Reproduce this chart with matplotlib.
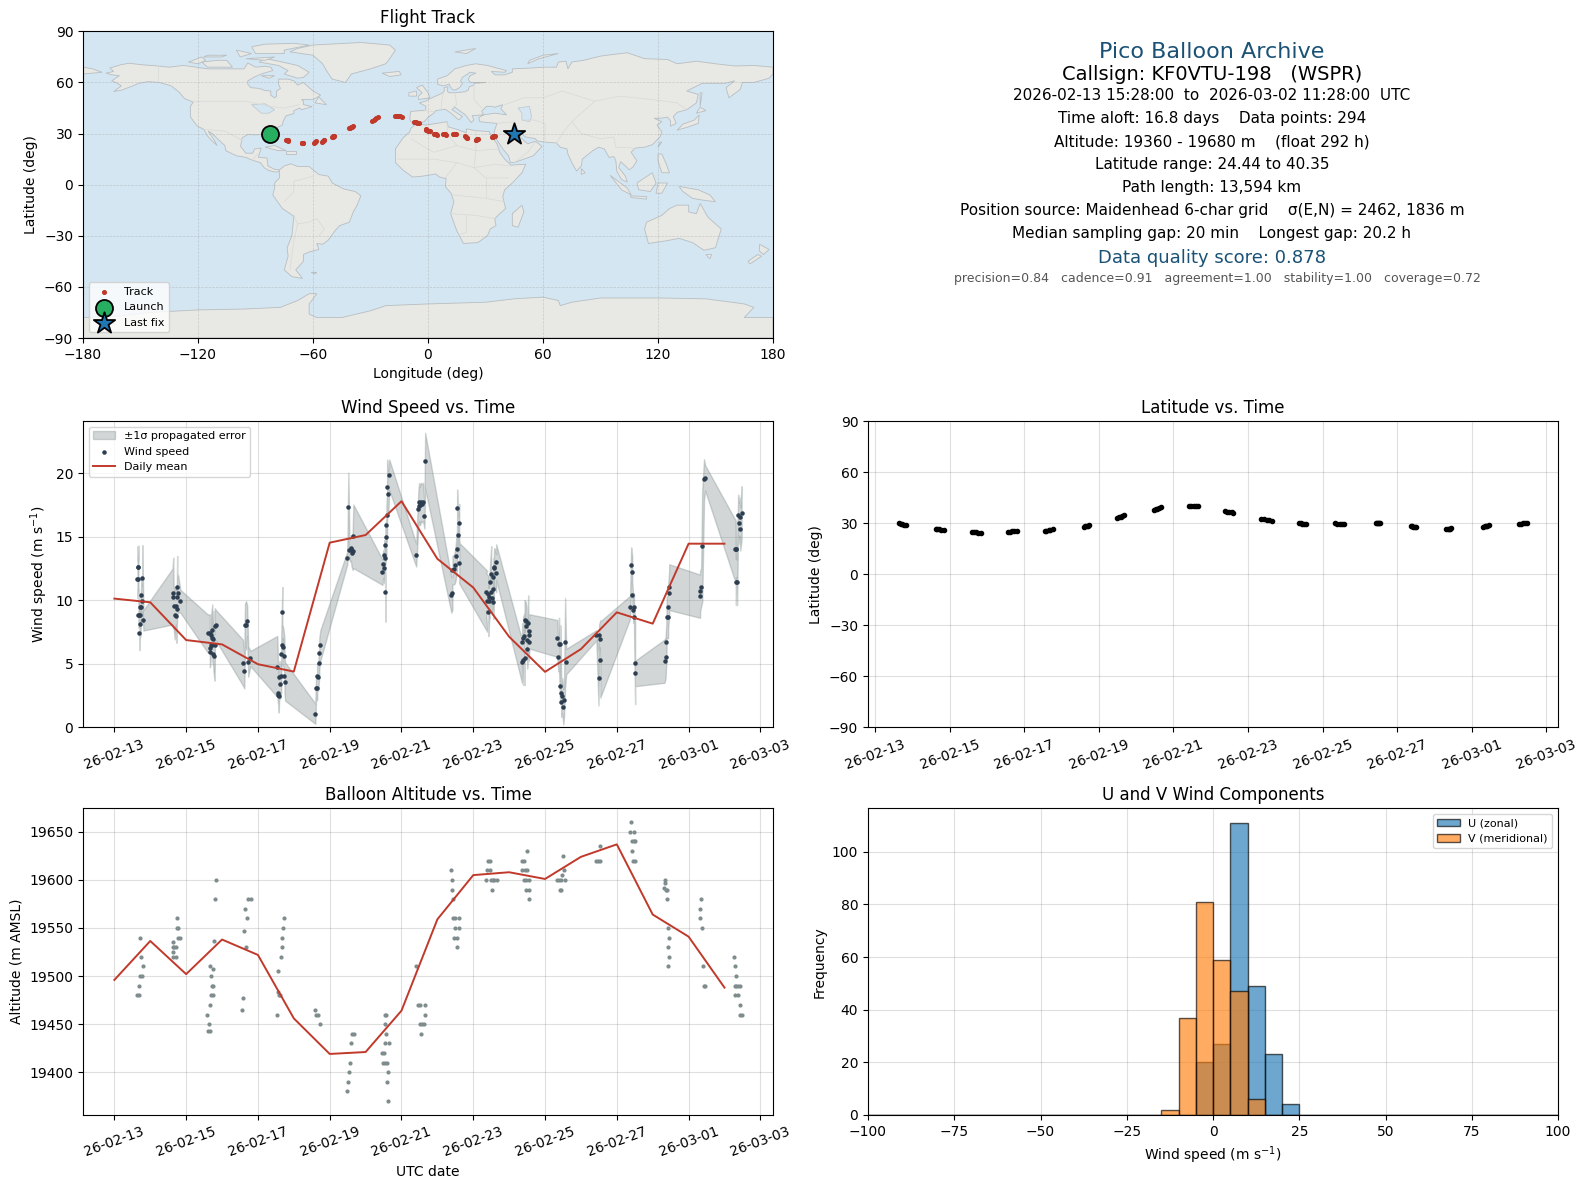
import numpy as np
import matplotlib
matplotlib.use("Agg")
import matplotlib.pyplot as plt
import matplotlib.dates as mdates
from matplotlib.patches import Polygon

# days after 2026-02-13 00:00
wind_day = [
    .644, .65, .66, .67, .67, .70, .70, .72, .72, .72, .74, .75, .78, .78, .81,
    1.62, 1.64, 1.65, 1.68, 1.71, 1.73, 1.74, 1.75, 1.75, 1.77, 1.84,
    2.6, 2.66, 2.66, 2.67, 2.68, 2.69, 2.73, 2.73, 2.73, 2.76, 2.76, 2.79, 2.8, 2.8, 2.83,
    3.58, 3.62, 3.64, 3.67, 3.7, 3.73, 3.79,
    4.54, 4.57, 4.57, 4.58, 4.6, 4.62, 4.65, 4.65, 4.68, 4.68, 4.71, 4.74, 4.74, 4.76,
    5.6, 5.62, 5.65, 5.65, 5.68, 5.71, 5.71, 5.74,
    6.49, 6.52, 6.55, 6.58, 6.59, 6.61, 6.63, 6.64, 6.66,
    7.47, 7.49, 7.52, 7.52, 7.55, 7.55, 7.55, 7.58, 7.58, 7.6, 7.6, 7.63, 7.66,
    8.41, 8.47, 8.49, 8.5, 8.52, 8.54, 8.56, 8.6, 8.64, 8.66,
    9.39, 9.42, 9.42, 9.47, 9.5, 9.53, 9.55, 9.55, 9.58, 9.61, 9.61,
    10.39, 10.36, 10.42, 10.42, 10.45, 10.45, 10.47, 10.5, 10.5, 10.53, 10.55, 10.56, 10.56, 10.58, 10.59, 10.64, 10.64,
    11.36, 11.36, 11.39, 11.39, 11.42, 11.43, 11.43, 11.46, 11.48, 11.5, 11.5, 11.53, 11.54, 11.56, 11.56,
    12.34, 12.37, 12.39, 12.42, 12.43, 12.45, 12.45, 12.48, 12.51, 12.53, 12.56, 12.59,
    13.43, 13.49, 13.51, 13.54, 13.54,
    14.37, 14.4, 14.43, 14.43, 14.46, 14.48, 14.48, 14.51, 14.51,
    15.33, 15.36, 15.38, 15.39, 15.43, 15.43, 15.46, 15.46,
    16.32, 16.32, 16.35, 16.38, 16.43, 16.46,
    17.28, 17.31, 17.32, 17.33, 17.35, 17.38, 17.41, 17.42, 17.44, 17.478,
]
wind_speed = [
    11.66, 12.58, 11.68, 12.6, 8.84, 8.84, 7.39, 9.45, 8.82, 8.13, 9.45, 10.39, 9.92, 11.74, 8.42,
    10.29, 10.55, 9.55, 8.82, 9.58, 8.76, 9.32, 11.08, 10.29, 10.55, 9.92,
    7.39, 7.39, 5.92, 6.21, 6.45, 7.26, 7.63, 7.0, 6.45, 6.95, 5.74, 5.58, 6.45, 7.97, 8.03,
    5.1, 4.47, 8.03, 8.03, 8.39, 5.18, 5.42,
    4.79, 2.74, 2.58, 2.47, 4.0, 3.45, 4.05, 5.74, 9.05, 6.5, 6.29, 5.58, 4.08, 3.6,
    1.08, 3.13, 3.13, 4.05, 4.0, 5.1, 5.82, 6.45,
    13.32, 17.34, 13.97, 14.03, 14.1, 13.84, 13.71, 13.89, 15.03,
    12.21, 12.84, 12.53, 13.55, 13.32, 10.63, 14.34, 14.97, 15.92, 16.71, 18.92, 18.37, 19.87,
    13.55, 17.21, 17.71, 17.4, 17.53, 17.74, 17.6, 17.74, 16.63, 20.97,
    10.42, 10.55, 12.37, 12.45, 12.76, 13.47, 14.03, 17.26, 15.13, 16.08, 12.92,
    9.92, 10.63, 10.5, 9.08, 10.29, 9.92, 11.42, 12.05, 10.63, 10.16, 10.87, 11.82, 9.84, 12.5, 12.6, 12.13, 13.0,
    5.18, 6.68, 5.34, 7.0, 7.16, 5.42, 8.42, 8.39, 7.95, 6.87, 6.13, 8.18, 6.71, 7.24, 7.55,
    7.0, 5.5, 6.53, 3.29, 6.53, 2.74, 2.03, 2.5, 1.63, 2.18, 6.68, 5.18,
    7.24, 3.92, 7.24, 6.92, 5.34,
    9.45, 12.76, 12.21, 10.39, 9.21, 9.45, 8.66, 5.03, 4.24,
    5.21, 5.5, 6.68, 8.66, 8.71, 9.45, 10.55, 11.03,
    10.32, 10.71, 11.03, 14.26, 19.5, 19.63,
    14.03, 14.03, 11.42, 14.03, 11.42, 16.71, 16.08, 16.58, 15.6, 16.87,
]
wind_err = [
    1.5, 1.7, 1.4, 1.7, 1.0, 1.0, 1.3, 1.1, 1.0, 1.0, 1.1, 1.3, 1.2, 2.6, 0.8,
    2.2, 2.8, 1.6, 1.9, 1.5, 2.1, 1.4, 2.4, 1.6, 1.5, 0.9,
    1.5, 1.5, 1.2, 1.4, 1.2, 1.5, 2.05, 1.6, 1.3, 2.2, 1.3, 1.9, 1.4, 1.4, 1.2,
    1.8, 1.4, 1.7, 1.9, 1.2, 1.2, 0.6,
    2.4, 1.1, 1.2, 1.3, 1.2, 1.2, 1.3, 1.5, 2.0, 1.6, 1.5, 1.4, 1.4, 1.5,
    0.8, 0.9, 1.0, 1.0, 1.1, 1.1, 1.2, 1.2,
    0.5, 2.7, 0.8, 1.0, 1.0, 1.2, 1.2, 1.5, 2.5,
    1.0, 1.1, 1.2, 1.2, 1.3, 2.3, 1.4, 1.5, 1.6, 1.7, 2.15, 1.8, 1.2,
    0.9, 1.4, 1.5, 1.5, 1.6, 1.5, 1.5, 1.5, 1.0, 2.2,
    1.4, 1.3, 1.1, 1.2, 1.3, 1.5, 1.5, 1.45, 1.5, 1.5, 1.6,
    2.4, 1.5, 1.4, 1.9, 1.5, 1.3, 1.5, 2.2, 1.5, 1.3, 1.4, 1.5, 1.3, 1.5, 1.5, 1.5, 1.4,
    1.7, 1.5, 2.0, 1.7, 1.8, 2.1, 1.6, 1.5, 1.5, 1.5, 1.5, 2.2, 1.5, 1.4, 1.35,
    1.45, 1.1, 2.1, 1.2, 1.5, 1.3, 1.2, 1.4, 1.4, 1.3, 3.5, 1.0,
    0.4, 2.2, 0.9, 1.5, 3.0,
    0.9, 1.4, 1.2, 1.0, 1.0, 1.1, 1.1, 3.2, 1.0,
    1.7, 1.6, 1.5, 1.6, 1.7, 1.7, 1.8, 1.8,
    1.7, 1.6, 1.5, 4.4, 1.6, 1.0,
    2.4, 2.3, 1.8, 2.2, 1.8, 1.6, 1.6, 1.5, 1.7, 2.1,
]
mean_day = list(range(18))
mean_speed = [10.13, 9.84, 6.87, 6.53, 4.97, 4.39, 14.53, 15.13, 17.79, 13.26, 11.0, 7.13,
              4.37, 6.16, 9.05, 8.16, 14.45, 14.45]
mean_alt = [19496, 19536.5, 19502, 19538, 19522, 19456, 19419, 19421, 19464, 19559, 19605, 19608,
            19601, 19624, 19637, 19564, 19541, 19488]

alt_day = [
    .72, .74, .81, .72, .78, .70, .64, .69,
    1.75, 1.74, 1.76, 1.76, 1.83, 1.64, 1.62, 1.67, 1.73, 1.62, 1.62, 1.71,
    2.83, 2.81, 2.79, 2.67, 2.76, 2.70, 2.72, 2.76, 2.69, 2.74, 2.67, 2.59, 2.65, 2.61, 2.66,
    3.73, 3.8, 3.65, 3.70, 3.62, 3.68, 3.59, 3.57,
    4.74, 4.71, 4.66, 4.68, 4.65, 4.57, 4.57, 4.6, 4.62, 4.54,
    5.6, 5.63, 5.67, 5.72,
    6.61, 6.67, 6.6, 6.57, 6.55, 6.52, 6.49,
    7.54, 7.58, 7.55, 7.58, 7.55, 7.66, 7.47, 7.52, 7.49, 7.55, 7.61, 7.63, 7.6, 7.63,
    8.41, 8.47, 8.51, 8.65, 8.66, 8.51, 8.57, 8.63, 8.55,
    9.39, 9.42, 9.42, 9.44, 9.44, 9.5, 9.61, 9.48, 9.61, 9.47, 9.55, 9.56,
    10.42, 10.46, 10.39, 10.46, 10.36, 10.5, 10.55, 10.59, 10.65, 10.52,
    11.49, 11.36, 11.42, 11.36, 11.43, 11.5, 11.42, 11.48, 11.55, 11.46, 11.56, 11.56,
    12.51, 12.54, 12.48, 12.34, 12.39, 12.45, 12.57, 12.41, 12.45,
    13.54, 13.43, 13.48, 13.54,
    14.4, 14.37, 14.48, 14.43, 14.48, 14.52, 14.43, 14.46, 14.52,
    15.35, 15.35, 15.32, 15.36, 15.39, 15.4, 15.43, 15.46, 15.43, 15.46, 15.43,
    16.35, 16.32, 16.32, 16.38, 16.41, 16.43, 16.46,
    17.27, 17.3, 17.33, 17.3, 17.33, 17.38, 17.42, 17.3, 17.38, 17.44, 17.44, 17.478,
]
alt_m = [
    19540, 19520, 19510, 19500, 19500, 19490, 19480, 19480,
    19560, 19550, 19550, 19540, 19540, 19535, 19530, 19530, 19530, 19525, 19520, 19520,
    19600, 19580, 19536, 19510, 19507, 19500, 19490, 19490, 19480, 19480, 19470, 19460, 19450, 19443, 19443,
    19580, 19580, 19570, 19560, 19547, 19530, 19477, 19465,
    19560, 19550, 19540, 19530, 19520, 19505, 19483, 19480, 19480, 19460,
    19465, 19460, 19460, 19450,
    19440, 19440, 19430, 19410, 19400, 19390, 19380,
    19460, 19460, 19450, 19440, 19430, 19430, 19420, 19420, 19410, 19410, 19410, 19400, 19390, 19370,
    19510, 19470, 19470, 19470, 19460, 19450, 19450, 19450, 19440,
    19610, 19600, 19590, 19580, 19560, 19560, 19560, 19550, 19550, 19540, 19540, 19530,
    19620, 19620, 19610, 19610, 19600, 19600, 19600, 19600, 19600, 19590,
    19630, 19620, 19620, 19610, 19610, 19610, 19600, 19600, 19600, 19590, 19590, 19580,
    19625, 19610, 19605, 19600, 19600, 19600, 19600, 19590, 19590,
    19635, 19620, 19620, 19620,
    19660, 19650, 19650, 19640, 19640, 19640, 19630, 19620, 19620,
    19600, 19597, 19592, 19590, 19590, 19580, 19550, 19540, 19530, 19520, 19510,
    19580, 19570, 19560, 19550, 19510, 19490, 19490,
    19520, 19510, 19500, 19490, 19490, 19490, 19490, 19480, 19480, 19470, 19460, 19460,
]

# track fixes, five per daily cluster
track_day = [
    .644, .68, .72, .76, .81, 1.62, 1.66, 1.71, 1.76, 1.84, 2.59, 2.65, 2.71, 2.76, 2.83,
    3.57, 3.62, 3.68, 3.73, 3.8, 4.54, 4.59, 4.65, 4.7, 4.76, 5.6, 5.63, 5.67, 5.7, 5.74,
    6.49, 6.53, 6.58, 6.62, 6.67, 7.47, 7.52, 7.56, 7.61, 7.66, 8.41, 8.47, 8.54, 8.6, 8.66,
    9.39, 9.45, 9.5, 9.56, 9.61, 10.36, 10.43, 10.5, 10.57, 10.65, 11.36, 11.41, 11.46, 11.51, 11.56,
    12.34, 12.4, 12.46, 12.52, 12.59, 13.43, 13.46, 13.49, 13.51, 13.54, 14.37, 14.41, 14.44, 14.48, 14.52,
    15.32, 15.36, 15.39, 15.43, 15.46, 16.32, 16.35, 16.38, 16.42, 16.46, 17.27, 17.32, 17.38, 17.43, 17.478,
]
track_lon = [
    -82.3, -81.6, -80.9, -80.2, -79.5, -74, -73.7, -73.4, -73.1, -72.8, -66, -65.8, -65.5, -65.2, -65,
    -59.4, -59.2, -59, -58.8, -58.6, -55.2, -55, -54.7, -54.5, -54.2, -50, -49.8, -49.5, -49.3, -49,
    -41, -40.5, -40, -39.5, -39, -29, -28.3, -27.7, -27, -26.3, -17.3, -16.3, -15.5, -14.7, -13.7,
    -7.2, -6.6, -6.1, -5.5, -4.8, -1.3, -0.8, -0.4, 0.1, 0.8, 3.1, 3.5, 3.9, 4.3, 4.7,
    8, 8.4, 8.7, 9, 9.4, 13.2, 13.5, 13.8, 14.1, 14.4, 19.5, 19.8, 20, 20.2, 20.5,
    24.9, 25.2, 25.5, 25.8, 26.1, 33.3, 33.7, 34.1, 34.5, 34.9, 42.6, 43.4, 44.1, 44.5, 44.9,
]
track_lat = [
    30.0, 29.7, 29.4, 29.1, 28.8, 26.5, 26.4, 26.3, 26.1, 25.9, 24.7, 24.6, 24.5, 24.45, 24.44,
    24.7, 24.9, 25.1, 25.3, 25.5, 25.1, 25.4, 25.7, 26, 26.3, 28, 28.2, 28.4, 28.6, 28.8,
    33, 33.4, 33.7, 34.1, 34.5, 37.6, 38.1, 38.5, 39, 39.5, 40.35, 40.3, 40.2, 40.05, 39.9,
    37, 36.8, 36.6, 36.4, 36.2, 32.5, 32.2, 32, 31.7, 31.4, 30, 29.85, 29.7, 29.55, 29.4,
    29.8, 29.7, 29.6, 29.5, 29.4, 30, 30.05, 30.05, 30, 30, 28.4, 28.2, 28, 27.7, 27.5,
    26.3, 26.5, 26.6, 26.8, 27, 27.9, 28.1, 28.3, 28.6, 28.8, 29.6, 29.7, 29.8, 30, 30.2,
]
launch_lonlat = [-82.3, 29.6]
last_lonlat = [44.9, 29.6]

hist_left = list(range(-100, 100, 5))
u_counts = [0] * 19 + [20, 27, 111, 49, 23, 4] + [0] * 15
v_counts = [0] * 17 + [2, 37, 81, 59, 47, 6] + [0] * 17

date_ticks = ['2026-02-13', '2026-02-15', '2026-02-17', '2026-02-19', '2026-02-21',
              '2026-02-23', '2026-02-25', '2026-02-27', '2026-03-01', '2026-03-03']

# rough coastlines (lon, lat)
land_shapes = [
    # north america
    [(-168,65.5),(-164,66.5),(-166,68.5),(-160,70.5),(-156,71.3),(-150,70.5),(-141,69.7),(-135,69),(-128,70),(-124,69.5),
     (-115,68),(-108,68),(-100,68),(-96,68),(-94,71.5),(-90,69),(-85,69.5),(-82,69),(-81,67),(-87,65),(-90,63.5),(-94,61),
     (-94,59),(-92.5,57),(-88,56.5),(-85,55.3),(-82,55),(-82,52.5),(-80,51),(-79,52),(-79,55),(-77,56.5),(-78,59),(-78,62),
     (-73,62),(-70,61),(-68,58.5),(-65,60),(-62,57),(-60,55),(-56,52.5),(-60,50),(-66,50),(-65,49),(-65,47),(-61,46),
     (-60.5,45.8),(-66,44),(-67,45),(-70,43.5),(-70,41.7),(-74,40.5),(-75.5,37.5),(-76,35),(-78,34),(-81,31.5),(-80,27),
     (-80.5,25),(-82,27),(-83,29),(-85,29.7),(-90,29.2),(-94,29.5),(-97,27.5),(-97.8,22.5),(-95,18.5),(-91.5,18.5),(-90.5,21),
     (-87,21.5),(-88,18),(-88.5,16),(-84,15.7),(-83.5,11),(-80,9),(-77.5,8.7),(-78,7.5),(-80,7.5),(-83,8.3),(-85.5,10),
     (-87.5,13),(-92,14.5),(-95,16),(-100,17),(-105.5,20),(-106,23),(-109,26),(-112.5,30),(-114.7,31.5),(-112,27),(-110,23),
     (-112,25),(-115,28.5),(-117,32.5),(-120.5,34.5),(-122.5,37.5),(-124,40),(-124,46),(-122.5,48.5),(-127,50.5),(-130,54.5),
     (-134,58),(-140,60),(-146,60.5),(-151,59.5),(-154,58),(-160,55.5),(-164,54.7),(-160,58),(-162,59.5),(-165,61),(-161,64),(-165,64.5)],
    # greenland and arctic islands
    [(-72,78),(-68,80),(-60,82),(-35,83.5),(-20,82),(-17,79),(-20,74),(-22,71),(-30,68),(-40,65),(-43,60),(-50,62),(-53,67),(-55,71),(-60,76)],
    [(-80,73),(-72,71),(-68,70),(-62,66),(-65,63),(-68,62.5),(-75,65),(-73,67),(-78,70),(-88,72),(-85,74)],
    [(-90,77),(-75,77),(-75,79),(-62,82),(-70,83),(-85,82.5),(-92,81)],
    [(-118,72),(-110,73),(-105,73),(-102,69),(-115,69)],
    [(-125,72),(-118,75),(-116,73),(-120,71)],
    [(-95,74),(-80,75),(-85,73)],
    [(-115,76),(-105,76),(-108,75),(-117,75)],
    [(-100,79),(-92,77),(-98,75)],
    [(-87,64),(-80,64),(-83,62.5)],
    [(-59,48),(-57,51.5),(-53,47)],
    [(-85,22),(-80,23),(-74,20),(-78,20)],
    [(-74,19.5),(-69,19.5),(-69,18),(-74,18)],
    [(-24,65.5),(-15,66.5),(-14,64.5),(-20,63.5)],
    [(-5,50),(1,51),(0,54),(-3,58.5),(-6,57),(-3,54),(-5,52)],
    [(-10,52),(-6,52),(-6,55),(-10,54)],
    # south america
    [(-77.5,8.7),(-75,11),(-71.5,12.3),(-68,10.7),(-62,10.6),(-57,6),(-52,5),(-50,1),(-44,-2.5),(-38,-4),(-35,-6.5),(-37,-12),
     (-39,-16),(-41,-22),(-46,-24),(-48.5,-27),(-52,-32.5),(-55,-35),(-58,-34.5),(-57,-38),(-62,-39.5),(-65,-41),(-65,-45),
     (-69,-50),(-65.5,-55),(-71,-54),(-75,-50),(-73,-42),(-73.5,-37),(-71,-30),(-70,-18.5),(-76,-14),(-81,-6),(-80,-2),(-80,1),
     (-77.5,4),(-77.5,7)],
    [(-61,-51.5),(-58,-51.5),(-59,-52.3)],
    # africa
    [(-6,35.8),(-1,35),(10,37),(10.5,34),(15,32.5),(20,30.5),(20,32.8),(25,31.7),(32,31.2),(32.5,29.5),(36,24),(37.5,19),(40,15),
     (43.3,11.5),(51,12),(49,7),(44,1),(40,-3),(39,-7),(40.5,-14),(37,-17.5),(34.8,-20),(35.5,-24),(32.5,-26),(31,-30),(26,-34),
     (18.5,-34.5),(15,-27),(11.8,-17),(13.5,-10),(12,-5),(9,-1),(9.5,3.5),(6,4.5),(4,6.3),(-3,5),(-8,4.5),(-13,8.5),(-17,13),
     (-17,21),(-13,27.5),(-9.5,31),(-9,33)],
    [(49,-12),(50,-16),(47,-25),(44,-24),(44,-17)],
    # eurasia
    [(-9,37),(-9.5,39),(-9,43),(-4,43.5),(-1.5,43.5),(-1,46),(-4.5,48),(-1.5,49),(2,51),(4,52),(7,53.5),(8.5,55),(8.5,57),
     (10.5,57.5),(10,55),(11,54),(14,54),(19,54.5),(21,55.5),(21.5,57.5),(24,58.5),(24,59.5),(30,60),(25,60),(22,60),(21,62),
     (22,64),(25,65.5),(22,66),(18,63),(17,61),(18,59.5),(16.5,57),(14,55.5),(12.5,56),(11,59),(8,58),(5,59),(5,62),(10,64),
     (14,68),(20,70),(25,71),(31,70),(41,67),(40,66),(33,66.5),(35,64.5),(40,64.5),(44,66),(44,68),(54,68.5),(60,69),(67,69),
     (68,72),(72,72.5),(73,68),(75,72),(81,73),(90,75.5),(104,77.5),(113,74),(125,73.5),(130,71),(140,72.5),(150,71),(160,69.7),
     (170,70),(180,69),(180,65),(178,62.5),(170,60),(164,60),(163,56),(157,51),(155.5,57),(160,61),(155,59.5),(143,59.5),(135,55),
     (141,53),(140,48),(135,44),(130,42.5),(128,40),(129.5,36),(126.5,34.3),(126.5,37.5),(125,39.7),(121.5,39),(118,39),(122,37),
     (119.5,35),(122,31),(121,28),(117,23.5),(113,22),(108,21.5),(106,19),(109,14),(107,10.5),(105,8.7),(103,11),(100.5,13.5),
     (99.5,10),(103,5),(104,1.5),(101,3),(98.5,8),(98,14),(97,16.5),(94.5,16),(92,21),(89,22),(86,20),(80.5,15),(80,11),(77.5,8),
     (75,13),(73,18),(72.5,21),(69,22),(67,24.5),(61,25),(57,25.7),(56,27),(51,28),(48.5,30),(48,28.5),(50,26),(52,24),(56,25.5),
     (59.5,22.5),(55,17),(45,13),(43,13),(42,17),(39,21),(35,28),(34.5,31),(36,36),(31,36.5),(27,37),(26.5,39.5),(29,41),(35,42),
     (41,41),(38,44.5),(39,47),(35,45.5),(33,46),(30.5,46),(28,43),(29,41),(26,40.8),(23,40.5),(24,38),(22.5,36.5),(19.5,41),
     (14,45.5),(12.5,44),(18,40),(16,38),(12,42),(9,44.3),(4,43.5),(3,42),(0,39.5),(-2,37),(-5.5,36)],
    [(-180,65),(-170,66),(-175,68),(-180,69)],
    [(130,32),(136,34),(141,36),(141.5,41),(139,38),(133,35.5)],
    [(140,42),(145,43.5),(142,45.5)],
    [(142,46),(143,54),(142,54)],
    [(120,22),(122,25),(121,25)],
    [(120,18),(122,18),(124,13),(126,7),(122,7),(120,14)],
    [(95,5.5),(104,-2),(106,-6),(101,-3)],
    [(105.5,-6.5),(114,-7),(114,-8.5),(106,-7.5)],
    [(109,1),(117,7),(119,1),(116,-4),(110,-3)],
    [(119,-5),(120,1),(125,1),(122,-5)],
    [(131,-1),(141,-3),(147,-6),(150,-10),(143,-9),(138,-8),(133,-4)],
    [(80,9.5),(82,7),(80,6)],
    # australia, new zealand
    [(114,-22),(122,-18),(126,-14),(130,-12),(136,-12),(136,-16),(140,-17),(142,-11),(146,-19),(153,-26),(150,-37),(144,-38.5),
     (138,-34),(131,-31.5),(124,-33),(115,-34.5),(113,-26)],
    [(145,-41),(148,-41),(147,-43.5)],
    [(173,-35),(178,-38),(175,-41),(173,-39)],
    [(172,-41),(174,-42),(168,-46.5),(167,-45)],
    [(14,78),(25,80),(20,77)],
    [(52,71),(58,74),(68,77),(60,76),(53,73)],
    # antarctica
    [(-180,-90),(-180,-78),(-160,-77),(-145,-75),(-120,-73.5),(-96,-73),(-77,-72),(-68,-68),(-62,-64),(-58,-64),(-62,-70),
     (-62,-76),(-58,-78),(-45,-78),(-30,-74),(-22,-71),(0,-70),(30,-69),(45,-67),(60,-66),(68,-68),(69,-71),(75,-69),(90,-66.5),
     (120,-66.5),(145,-67),(165,-70),(170,-72),(165,-78),(180,-78),(180,-90)],
]
lake_shapes = [
    [(47,45),(53,46),(54,40),(53,37),(49,38),(49,42)],
    [(-92,47),(-85,47.5),(-80,44),(-83,42),(-87,42)],
]
border_lines = [
    [(-141,70),(-141,60)], [(-123,49),(-95,49),(-83,46),(-75,45),(-67,47)], [(-117,32.5),(-106,31.5),(-97,26)],
    [(-92,14),(-89,18)], [(-70,-18),(-68,-23),(-70,-33),(-72,-50)], [(-58,-20),(-62,-22),(-68,-23)],
    [(-75,-10),(-70,-4),(-70,2),(-60,5)], [(-58,-20),(-54,-26),(-57,-30)],
    [(-2,43.5),(3,43)], [(8,54),(7,48),(7,44)], [(14,54),(15,47),(13,45.5)], [(24,59),(24,50),(28,45)], [(40,47),(50,51),(60,51),(70,55),(87,49)],
    [(87,49),(100,52),(117,50),(130,48),(135,44)], [(87,49),(80,42),(75,37),(80,30),(90,27),(97,28),(98,22),(105,22),(108,21)],
    [(61,25),(61,36),(55,38),(49,38)], [(48,30),(45,37),(36,36)], [(45,13),(52,19),(56,25)], [(75,37),(70,30),(67,24)],
    [(-9,27),(3,19),(15,23),(25,20),(37,21)], [(25,31),(25,20),(24,10),(30,4),(42,4)], [(10,37),(10,30),(15,23)],
    [(-16,15),(3,15),(15,13),(24,10),(35,12),(43,11)], [(9,4),(15,13)], [(13,-6),(30,-8),(40,-10)], [(12,-17),(25,-18),(35,-20)],
    [(20,-18),(20,-28),(17,-29)], [(30,4),(30,-8)],
]

info_lines = [
    (51, 1212, 'Pico Balloon Archive', 16, '#1a5276'),
    (74, 1212, 'Callsign: KF0VTU-198   (WSPR)', 14, 'black'),
    (94, 1212, '2026-02-13 15:28:00  to  2026-03-02 11:28:00  UTC', 11, 'black'),
    (117, 1212, 'Time aloft: 16.8 days    Data points: 294', 11, 'black'),
    (140, 1212, 'Altitude: 19360 - 19680 m    (float 292 h)', 11, 'black'),
    (163, 1212, 'Latitude range: 24.44 to 40.35', 11, 'black'),
    (185, 1212, 'Path length: 13,594 km', 11, 'black'),
    (208, 1212, 'Position source: Maidenhead 6-char grid    σ(E,N) = 2462, 1836 m', 11, 'black'),
    (231, 1212, 'Median sampling gap: 20 min    Longest gap: 20.2 h', 11, 'black'),
    (255, 1212, 'Data quality score: 0.878', 13, '#1a5276'),
    (275, 1217, 'precision=0.84   cadence=0.91   agreement=1.00   stability=1.00   coverage=0.72', 9, '#555555'),
]

W, H = 1587, 1189
base = mdates.date2num(np.datetime64('2026-02-13'))
fig = plt.figure(figsize=(W / 100, H / 100), dpi=100)


def make_axes(x0, y0, x1, y1):
    return fig.add_axes([x0 / W, 1 - y1 / H, (x1 - x0) / W, (y1 - y0) / H])


def time_axis(ax):
    ax.set_xticks(mdates.date2num([np.datetime64(d) for d in date_ticks]))
    ax.xaxis.set_major_formatter(mdates.DateFormatter('%y-%m-%d'))
    ax.tick_params(axis='x', rotation=20)
    ax.grid(True, color='gray', alpha=0.25)
    ax.set_axisbelow(True)


LEFT, RIGHT = (83, 773), (868, 1558)
ROW1, ROW2, ROW3 = (31.4, 338), (421, 727.4), (808.3, 1115)

# map
ax = make_axes(LEFT[0], ROW1[0], LEFT[1], ROW1[1])
ax.set_facecolor('#d4e6f1')
for shape in land_shapes:
    ax.add_patch(Polygon(shape, closed=True, facecolor='#e8e8e4', edgecolor='#b8bec2', linewidth=0.6, zorder=1))
for shape in lake_shapes:
    ax.add_patch(Polygon(shape, closed=True, facecolor='#d4e6f1', edgecolor='#b8bec2', linewidth=0.4, zorder=1.1))
for line in border_lines:
    ax.plot([p[0] for p in line], [p[1] for p in line], color='#d8dad8', lw=0.5, zorder=1.2)
ax.grid(True, color='#999999', ls='--', lw=0.5, alpha=0.4, zorder=1.5)
ax.scatter(track_lon, track_lat, s=7, color='#c0392b', zorder=3, label='Track')
ax.scatter(launch_lonlat[0], launch_lonlat[1], s=150, color='#27ae60', edgecolor='black', linewidth=1.3, zorder=4, label='Launch')
ax.scatter(last_lonlat[0], last_lonlat[1], s=260, marker='*', color='#1f77b4', edgecolor='black', linewidth=1.3, zorder=4, label='Last fix')
ax.set_xlim(-180, 180)
ax.set_ylim(-90, 90)
ax.set_xticks(range(-180, 181, 60))
ax.set_yticks(range(-90, 91, 30))
ax.set_xticklabels(['\u2212180', '\u2212120', '\u221260', '0', '60', '120', '180'])
ax.set_xlabel('Longitude (deg)')
ax.set_ylabel('Latitude (deg)')
ax.set_title('Flight Track', fontsize=12)
ax.legend(loc='lower left', fontsize=8)

# summary text
for y, x, txt, size, col in info_lines:
    fig.text(x / W, 1 - y * 1.0117 / H, txt, fontsize=size, color=col, ha='center', va='center')

# wind speed
ax = make_axes(LEFT[0], ROW2[0], LEFT[1], ROW2[1])
wd = base + np.array(wind_day)
ws = np.array(wind_speed)
we = np.array(wind_err)
ax.fill_between(wd, np.clip(ws - we, 0, None), ws + we, color='#7f8c8d', alpha=0.35, label='±1σ propagated error')
ax.scatter(wd, ws, s=5, color='#2c3e50', zorder=3, label='Wind speed')
ax.plot(base + np.array(mean_day), mean_speed, color='#c0392b', lw=1.4, zorder=4, label='Daily mean')
time_axis(ax)
ax.set_ylim(0, 24.1)
ax.set_ylabel('Wind speed (m s$^{-1}$)')
ax.set_title('Wind Speed vs. Time', fontsize=12)
ax.legend(loc='upper left', fontsize=8)

# latitude
ax = make_axes(RIGHT[0], ROW2[0], RIGHT[1], ROW2[1])
ax.scatter(base + np.array(track_day), track_lat, s=9, color='black', zorder=3)
time_axis(ax)
ax.set_ylim(-90, 90)
ax.set_yticks(range(-90, 91, 30))
ax.set_ylabel('Latitude (deg)')
ax.set_title('Latitude vs. Time', fontsize=12)

# altitude
ax = make_axes(LEFT[0], ROW3[0], LEFT[1], ROW3[1])
ax.scatter(base + np.array(alt_day), alt_m, s=4, color='#7f8c8d', zorder=3)
ax.plot(base + np.array(mean_day), mean_alt, color='#c0392b', lw=1.4, zorder=4)
time_axis(ax)
ax.set_xlabel('UTC date')
ax.set_ylabel('Altitude (m AMSL)')
ax.set_title('Balloon Altitude vs. Time', fontsize=12)

# histogram
ax = make_axes(RIGHT[0], ROW3[0], RIGHT[1], ROW3[1])
ax.bar(hist_left, u_counts, width=5, align='edge', color='#1f77b4', alpha=0.65, edgecolor='black', label='U (zonal)')
ax.bar(hist_left, v_counts, width=5, align='edge', color='#ff7f0e', alpha=0.65, edgecolor='black', label='V (meridional)')
ax.set_xlim(-100, 100)
ax.grid(True, color='gray', alpha=0.25)
ax.set_axisbelow(True)
ax.set_xlabel('Wind speed (m s$^{-1}$)')
ax.set_ylabel('Frequency')
ax.set_title('U and V Wind Components', fontsize=12)
ax.legend(loc='upper right', fontsize=8)

fig.savefig('out.png', dpi=100)
